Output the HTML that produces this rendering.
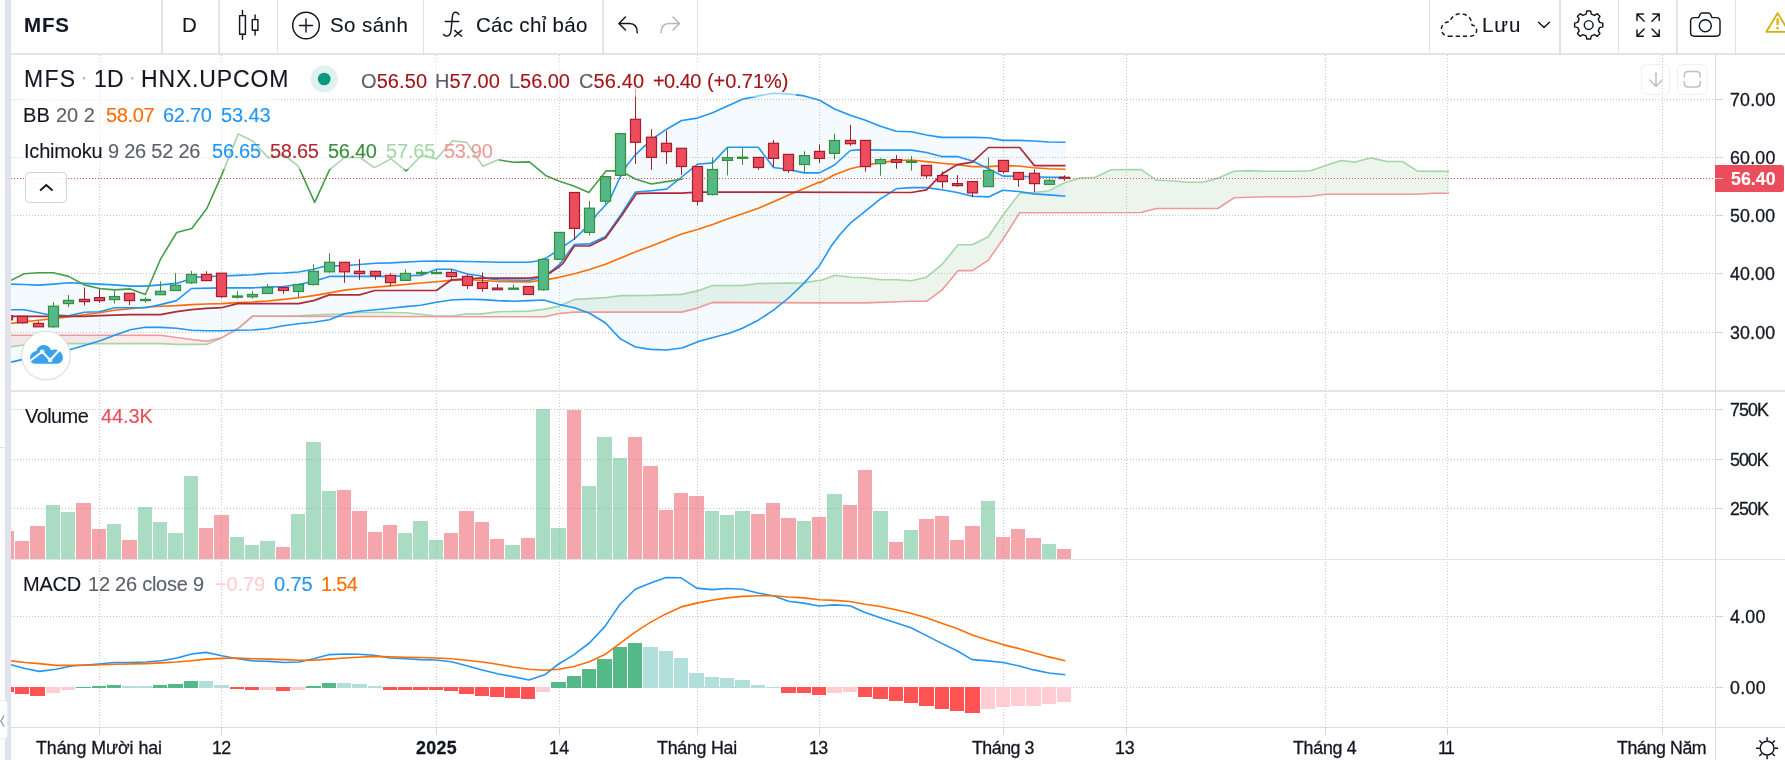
<!DOCTYPE html>
<html><head><meta charset="utf-8"><title>MFS</title>
<style>
html,body{margin:0;padding:0;background:#fff;}
body{width:1785px;height:760px;overflow:hidden;position:relative;font-family:"Liberation Sans",sans-serif;}
#app{position:absolute;left:0;top:0;width:1785px;height:760px;overflow:hidden;background:#fff;}
svg{position:absolute;left:0;top:0;}
.t{position:absolute;white-space:pre;font-family:"Liberation Sans",sans-serif;will-change:transform;-webkit-text-stroke:0.12px currentColor;}
.lb{position:absolute;background:rgba(255,255,255,0.55);}
</style></head><body><div id="app">
<svg width="1785" height="760" viewBox="0 0 1785 760">
<defs><clipPath id="cpMain"><rect x="11" y="55" width="1704" height="335"/></clipPath></defs>
<g stroke="#c8c8c8" stroke-width="1" stroke-dasharray="1 2" fill="none" shape-rendering="crispEdges"><path d="M99.5 55V727"/><path d="M221.5 55V727"/><path d="M436.5 55V727"/><path d="M559.5 55V727"/><path d="M697.5 55V727"/><path d="M819.5 55V727"/><path d="M1003.5 55V727"/><path d="M1126.5 55V727"/><path d="M1325.5 55V727"/><path d="M1447.5 55V727"/><path d="M1662.5 55V727"/><path d="M11 99.5H1715"/><path d="M11 157.5H1715"/><path d="M11 215.5H1715"/><path d="M11 273.5H1715"/><path d="M11 332.5H1715"/><path d="M11 409.5H1715"/><path d="M11 459.5H1715"/><path d="M11 508.5H1715"/><path d="M11 616.5H1715"/><path d="M11 687.5H1715"/></g>
<g clip-path="url(#cpMain)">
<polygon points="11.1,284.1 24.2,284.5 38.3,285.1 53.4,284.1 68.6,282.8 84.3,283.4 99.4,284.1 114.6,284.9 130.3,286.1 145.4,286.1 160.5,284.9 176.5,283.4 185.6,280.4 191.4,277.4 206.5,276.8 221.5,276.0 237.6,275.4 252.5,274.8 267.6,273.4 283.4,273.0 298.5,272.0 313.6,269.3 322.7,266.7 329.4,265.9 344.5,265.7 350.1,265.3 375.3,263.3 390.4,262.9 420.7,261.3 436.4,261.1 451.5,261.3 480.0,261.7 498.2,262.3 529.4,262.3 538.5,260.7 546.6,257.7 559.3,249.6 566.7,244.1 574.4,238.9 589.5,224.4 597.0,214.3 609.1,201.2 619.2,179.0 627.2,164.9 635.3,154.8 651.4,139.7 666.6,129.2 681.7,120.5 697.4,118.1 712.6,112.8 727.5,106.0 742.4,99.3 758.3,95.9 773.5,93.3 788.6,93.9 804.3,95.9 819.5,100.3 835.1,109.2 850.3,115.2 865.4,120.3 880.5,126.3 896.2,131.3 911.4,131.8 926.5,135.0 941.6,137.4 957.2,137.4 972.5,137.4 988.4,137.8 1002.9,140.4 1018.5,140.4 1033.6,141.0 1048.9,142.0 1065.5,142.2 1065.5,196.3 1048.9,194.9 1033.6,193.9 1018.5,191.5 1002.9,190.2 988.4,196.9 972.5,196.3 957.2,192.5 941.6,189.8 926.5,187.6 911.4,187.6 896.2,188.8 880.5,198.9 865.4,211.1 850.3,223.2 840.0,234.5 830.9,246.6 819.5,265.7 804.3,282.9 788.6,298.0 773.5,310.1 758.3,320.2 742.4,328.2 730.1,333.1 700.0,340.9 681.9,348.0 666.7,350.0 650.6,349.4 635.5,347.0 620.4,338.9 605.2,322.8 589.5,313.3 574.4,307.7 559.4,304.6 543.7,300.0 529.6,300.6 513.1,301.2 497.3,300.6 482.4,299.6 467.5,299.2 451.5,300.0 436.4,302.2 420.7,305.2 405.6,306.6 390.4,308.3 375.3,309.7 359.6,311.3 344.5,313.7 329.4,319.8 313.6,322.2 298.5,323.8 283.4,325.8 267.6,328.8 252.5,330.0 237.6,330.2 221.5,330.8 206.5,330.8 191.4,330.2 176.5,328.2 160.5,327.4 145.4,327.2 130.3,329.8 114.6,335.3 99.4,340.9 84.3,345.4 68.6,350.0 53.4,353.4 38.3,356.1 24.2,359.1 11.1,362.1" fill="#2196f3" fill-opacity="0.05"/>
<polygon points="11.1,346.6 24.2,345.0 46.4,342.9 53.4,343.1 68.6,343.6 99.4,343.6 160.5,343.6 161.4,343.6 176.5,344.4 191.4,344.4 206.5,344.4 221.5,337.9 237.6,328.8 237.6,328.8 221.5,337.9 206.5,341.3 191.4,339.5 176.5,337.5 161.4,335.4 160.5,335.3 99.4,335.3 68.6,335.3 53.4,335.3 46.4,335.3 24.2,335.3 11.1,335.3" fill="#f44336" fill-opacity="0.1"/>
<polygon points="237.6,328.8 252.5,316.1 267.6,316.1 298.5,315.7 313.6,315.1 329.4,314.3 344.5,313.7 359.6,312.7 375.3,312.3 405.6,312.7 420.7,314.3 436.4,316.1 451.5,316.1 467.5,313.7 480.0,314.1 498.2,311.7 529.4,311.1 544.5,309.1 559.3,306.1 574.4,299.4 589.5,298.6 605.5,297.6 621.2,295.6 651.4,295.4 681.7,294.4 697.4,290.9 712.6,285.5 742.4,285.5 758.3,283.5 804.3,282.9 819.5,280.2 820.0,280.7 835.1,275.2 850.3,277.2 865.4,277.7 880.5,279.7 896.2,279.7 911.4,280.7 926.5,277.2 941.6,264.9 958.2,244.8 972.5,244.8 988.4,236.7 1002.9,215.1 1019.7,193.3 1034.4,192.5 1048.9,190.8 1064.5,182.8 1080.2,178.1 1095.3,177.3 1111.4,169.7 1120.0,169.6 1141.2,169.6 1156.3,180.1 1171.4,180.7 1187.6,182.3 1202.7,182.3 1217.8,178.3 1234.0,171.2 1249.1,170.6 1264.2,171.2 1295.5,171.2 1310.6,170.8 1325.7,165.6 1340.9,160.5 1355.0,162.1 1370.5,157.9 1387.2,161.5 1402.4,161.5 1417.5,171.2 1432.6,171.3 1449.2,171.4 1449.2,193.2 1432.6,193.2 1417.5,194.2 1402.4,194.2 1387.2,194.2 1370.5,194.2 1355.0,194.2 1340.9,194.2 1325.7,194.2 1310.6,196.2 1295.5,196.8 1264.2,196.8 1249.1,197.3 1234.0,197.8 1217.8,208.5 1202.7,208.5 1187.6,208.5 1171.4,208.5 1156.3,208.5 1141.2,212.5 1120.0,212.5 1111.4,212.5 1095.3,212.6 1080.2,212.6 1064.5,212.6 1048.9,212.7 1034.4,212.7 1019.7,212.7 1002.9,239.3 988.4,260.1 972.5,270.6 958.2,270.6 941.6,290.4 926.5,301.3 911.4,301.3 896.2,301.8 880.5,302.4 865.4,302.9 850.3,302.9 835.1,302.9 820.0,302.9 819.5,302.9 804.3,302.8 758.3,302.6 742.4,302.5 712.6,302.4 697.4,308.1 681.7,312.1 651.4,312.1 621.2,312.1 605.5,312.1 589.5,312.1 574.4,312.1 559.3,313.5 544.5,316.7 529.4,316.7 498.2,316.7 480.0,316.7 467.5,316.7 451.5,316.6 436.4,316.6 420.7,316.6 405.6,316.6 375.3,316.5 359.6,316.5 344.5,316.5 329.4,316.4 313.6,316.4 298.5,316.4 267.6,316.3 252.5,316.3 237.6,328.8" fill="#43a047" fill-opacity="0.1"/>
<polyline points="11.1,346.6 24.2,345.0 46.4,342.9 68.6,343.6 99.4,343.6 161.4,343.6 176.5,344.4 206.5,344.4 221.5,337.9 237.6,328.8 252.5,316.1 267.6,316.1 298.5,315.7 313.6,315.1 329.4,314.3 344.5,313.7 359.6,312.7 375.3,312.3 405.6,312.7 420.7,314.3 436.4,316.1 451.5,316.1 467.5,313.7 480.0,314.1 498.2,311.7 529.4,311.1 544.5,309.1 559.3,306.1 574.4,299.4 589.5,298.6 605.5,297.6 621.2,295.6 651.4,295.4 681.7,294.4 697.4,290.9 712.6,285.5 742.4,285.5 758.3,283.5 804.3,282.9 819.5,280.2 820.0,280.7 835.1,275.2 850.3,277.2 865.4,277.7 880.5,279.7 896.2,279.7 911.4,280.7 926.5,277.2 941.6,264.9 958.2,244.8 972.5,244.8 988.4,236.7 1002.9,215.1 1019.7,193.3 1034.4,192.5 1048.9,190.8 1064.5,182.8 1080.2,178.1 1095.3,177.3 1111.4,169.7 1120.0,169.6 1141.2,169.6 1156.3,180.1 1171.4,180.7 1187.6,182.3 1202.7,182.3 1217.8,178.3 1234.0,171.2 1249.1,170.6 1264.2,171.2 1295.5,171.2 1310.6,170.8 1325.7,165.6 1340.9,160.5 1355.0,162.1 1370.5,157.9 1387.2,161.5 1402.4,161.5 1417.5,171.2 1449.2,171.4" fill="none" stroke="#a5d6a7" stroke-width="1.6" stroke-linejoin="round"/>
<polyline points="11.1,335.3 53.4,335.3 160.5,335.3 176.5,337.5 191.4,339.5 206.5,341.3 221.5,337.9 237.6,328.8 252.5,316.3 480.0,316.7 544.5,316.7 559.3,313.5 574.4,312.1 681.7,312.1 697.4,308.1 712.6,302.4 820.0,302.9 865.4,302.9 911.4,301.3 926.5,301.3 941.6,290.4 958.2,270.6 972.5,270.6 988.4,260.1 1002.9,239.3 1019.7,212.7 1141.2,212.5 1156.3,208.5 1217.8,208.5 1234.0,197.8 1264.2,196.8 1295.5,196.8 1310.6,196.2 1325.7,194.2 1417.5,194.2 1432.6,193.2 1449.2,193.2" fill="none" stroke="#ef9a9a" stroke-width="1.6" stroke-linejoin="round"/>
<polyline points="11.1,323.4 24.2,321.8 38.3,320.2 53.4,318.7 68.6,316.7 84.3,314.7 99.4,312.7 114.6,310.3 130.3,308.7 145.4,307.2 160.5,306.2 176.5,305.6 191.4,304.6 206.5,304.0 221.5,303.6 237.6,302.6 252.5,302.0 267.6,301.0 283.4,299.4 298.5,297.8 313.6,295.6 329.4,292.9 344.5,290.1 359.6,288.5 390.4,285.9 420.7,283.0 436.4,281.8 451.5,280.4 467.5,279.8 480.0,280.2 498.2,281.5 529.4,281.9 538.5,280.8 548.6,279.4 559.3,277.2 574.4,273.8 589.5,269.4 605.5,264.3 621.2,257.7 636.3,251.6 651.4,246.0 666.6,239.9 681.7,234.1 697.4,229.4 712.6,224.4 727.5,218.9 742.4,213.7 758.3,208.2 773.5,201.8 788.6,195.1 804.3,188.5 819.5,182.0 820.0,182.8 834.5,174.7 850.3,168.7 865.4,165.2 880.5,162.6 896.2,160.6 911.4,160.0 926.5,161.6 941.6,163.2 957.2,164.6 972.5,166.6 988.4,166.6 1002.9,165.6 1018.5,166.0 1033.6,167.7 1048.9,168.7 1065.5,169.3" fill="none" stroke="#ff6d00" stroke-width="1.6" stroke-linejoin="round"/>
<polyline points="11.1,284.1 24.2,284.5 38.3,285.1 53.4,284.1 68.6,282.8 84.3,283.4 99.4,284.1 114.6,284.9 130.3,286.1 145.4,286.1 160.5,284.9 176.5,283.4 185.6,280.4 191.4,277.4 206.5,276.8 221.5,276.0 237.6,275.4 252.5,274.8 267.6,273.4 283.4,273.0 298.5,272.0 313.6,269.3 322.7,266.7 329.4,265.9 344.5,265.7 350.1,265.3 375.3,263.3 390.4,262.9 420.7,261.3 436.4,261.1 451.5,261.3 480.0,261.7 498.2,262.3 529.4,262.3 538.5,260.7 546.6,257.7 559.3,249.6 566.7,244.1 574.4,238.9 589.5,224.4 597.0,214.3 609.1,201.2 619.2,179.0 627.2,164.9 635.3,154.8 651.4,139.7 666.6,129.2 681.7,120.5 697.4,118.1 712.6,112.8 727.5,106.0 742.4,99.3 758.3,95.9 773.5,93.3 788.6,93.9 804.3,95.9 819.5,100.3 835.1,109.2 850.3,115.2 865.4,120.3 880.5,126.3 896.2,131.3 911.4,131.8 926.5,135.0 941.6,137.4 957.2,137.4 972.5,137.4 988.4,137.8 1002.9,140.4 1018.5,140.4 1033.6,141.0 1048.9,142.0 1065.5,142.2" fill="none" stroke="#2196f3" stroke-width="1.6" stroke-linejoin="round"/>
<polyline points="11.1,362.1 24.2,359.1 38.3,356.1 53.4,353.4 68.6,350.0 84.3,345.4 99.4,340.9 114.6,335.3 130.3,329.8 145.4,327.2 160.5,327.4 176.5,328.2 191.4,330.2 206.5,330.8 221.5,330.8 237.6,330.2 252.5,330.0 267.6,328.8 283.4,325.8 298.5,323.8 313.6,322.2 329.4,319.8 344.5,313.7 359.6,311.3 375.3,309.7 390.4,308.3 405.6,306.6 420.7,305.2 436.4,302.2 451.5,300.0 467.5,299.2 482.4,299.6 497.3,300.6 513.1,301.2 529.6,300.6 543.7,300.0 559.4,304.6 574.4,307.7 589.5,313.3 605.2,322.8 620.4,338.9 635.5,347.0 650.6,349.4 666.7,350.0 681.9,348.0 700.0,340.9 730.1,333.1 742.4,328.2 758.3,320.2 773.5,310.1 788.6,298.0 804.3,282.9 819.5,265.7 830.9,246.6 840.0,234.5 850.3,223.2 865.4,211.1 880.5,198.9 896.2,188.8 911.4,187.6 926.5,187.6 941.6,189.8 957.2,192.5 972.5,196.3 988.4,196.9 1002.9,190.2 1018.5,191.5 1033.6,193.9 1048.9,194.9 1065.5,196.3" fill="none" stroke="#2196f3" stroke-width="1.6" stroke-linejoin="round"/>
<polyline points="11.1,309.7 24.2,309.7 46.4,314.3 68.6,315.7 84.3,312.3 99.4,311.7 114.6,307.7 145.4,307.7 160.5,304.6 176.5,300.6 191.4,288.5 221.5,287.9 237.6,287.9 252.5,287.9 267.6,287.1 283.4,286.5 298.5,284.5 313.6,281.4 329.4,276.4 390.4,276.4 405.6,275.8 420.7,275.4 436.4,269.3 451.5,269.3 467.5,274.0 480.0,275.8 488.1,278.8 498.2,279.8 529.4,280.2 538.5,278.2 548.6,273.4 559.3,264.7 566.7,254.6 574.4,244.5 589.5,243.9 605.5,236.5 621.2,214.3 635.3,192.1 651.4,190.7 666.6,189.1 681.7,177.0 697.4,164.3 712.6,162.9 727.5,147.3 742.4,147.3 758.3,147.3 773.5,167.5 788.6,169.5 804.3,172.9 819.5,172.9 834.5,165.0 850.3,150.5 858.3,149.9 865.4,149.9 880.5,150.1 896.2,150.1 911.4,150.1 926.5,152.5 941.6,156.6 957.2,156.6 972.5,161.0 988.4,168.7 1002.9,176.1 1018.5,176.3 1033.6,176.7 1048.9,177.3 1065.5,177.3" fill="none" stroke="#2196f3" stroke-width="1.6" stroke-linejoin="round"/>
<polyline points="11.1,316.3 38.3,316.3 53.4,316.3 68.6,316.3 84.3,316.3 99.4,315.7 114.6,315.1 130.3,314.7 145.4,314.7 160.5,314.7 176.5,311.7 191.4,309.7 206.5,308.3 221.5,307.7 237.6,303.6 252.5,303.6 267.6,303.6 283.4,303.6 298.5,303.6 313.6,300.6 329.4,294.9 344.5,294.9 359.6,294.9 374.9,290.5 436.4,290.5 451.5,279.8 480.0,278.2 529.4,278.2 538.5,276.8 548.6,273.8 559.3,266.7 562.7,263.7 574.4,246.0 589.5,246.0 605.5,238.1 621.2,216.3 636.3,193.7 651.4,193.1 681.7,193.1 697.4,192.1 911.4,192.5 926.5,189.8 942.4,173.7 957.4,164.6 972.5,162.2 988.4,147.5 1002.9,147.5 1019.7,147.5 1034.4,165.6 1065.5,165.6" fill="none" stroke="#ad2a38" stroke-width="1.7" stroke-linejoin="round"/>
<polyline points="11.1,280.4 24.2,273.8 38.3,272.8 53.4,272.8 68.6,276.4 84.3,284.9 99.4,288.5 114.6,289.9 130.3,288.9 145.4,294.5 160.5,259.2 176.7,232.5 191.8,228.5 207.0,208.3 222.3,173.6 238.2,133.9 252.9,141.3 268.5,157.9 283.6,154.5 298.3,166.2 314.7,202.3 329.6,169.6 344.7,157.5 359.8,157.5 374.4,167.6 391.1,158.9 406.2,171.0 421.4,155.5 436.5,158.9 452.6,140.7 466.7,142.4 482.9,166.2 498.2,159.8 513.3,162.3 529.4,161.9 545.6,175.4 558.7,181.0 573.8,186.1 588.9,192.5 598.0,181.0 606.1,170.9 619.2,170.9 626.2,174.0 635.3,179.0 651.4,184.0 666.6,181.6 682.7,179.0" fill="none" stroke="#43a047" stroke-width="1.6" stroke-linejoin="round"/>
<g><path d="M7.5 315.7V319.8" stroke="#a61c2b" stroke-width="1"/><rect x="2.5" y="315.7" width="10" height="4.1" fill="#eb4d5c" stroke="#a61c2b" stroke-width="1.2"/><path d="M22.5 316.3V323.8" stroke="#a61c2b" stroke-width="1"/><rect x="17.5" y="316.3" width="10" height="6.5" fill="#eb4d5c" stroke="#a61c2b" stroke-width="1.2"/><path d="M38.5 321.2V326.8" stroke="#a61c2b" stroke-width="1"/><rect x="33.5" y="323.4" width="10" height="3.4" fill="#eb4d5c" stroke="#a61c2b" stroke-width="1.2"/><path d="M53.5 302.2V327.8" stroke="#388e3c" stroke-width="1"/><rect x="48.5" y="306.2" width="10" height="20.6" fill="#53b987" stroke="#388e3c" stroke-width="1.2"/><path d="M68.5 295.1V307.0" stroke="#388e3c" stroke-width="1"/><rect x="63.5" y="300.4" width="10" height="3.2" fill="#53b987" stroke="#388e3c" stroke-width="1.2"/><path d="M84.5 287.5V305.6" stroke="#a61c2b" stroke-width="1"/><rect x="79.5" y="299.4" width="10" height="2.2" fill="#eb4d5c" stroke="#a61c2b" stroke-width="1.2"/><path d="M99.5 288.9V303.0" stroke="#a61c2b" stroke-width="1"/><rect x="94.5" y="297.6" width="10" height="3.0" fill="#eb4d5c" stroke="#a61c2b" stroke-width="1.2"/><path d="M114.5 291.1V303.6" stroke="#388e3c" stroke-width="1"/><rect x="109.5" y="296.6" width="10" height="3.0" fill="#53b987" stroke="#388e3c" stroke-width="1.2"/><path d="M129.5 293.3V305.0" stroke="#a61c2b" stroke-width="1"/><rect x="124.5" y="293.3" width="10" height="7.3" fill="#eb4d5c" stroke="#a61c2b" stroke-width="1.2"/><path d="M145.5 297.2V302.6" stroke="#388e3c" stroke-width="1"/><rect x="140.5" y="299.4" width="10" height="1.2" fill="#53b987" stroke="#388e3c" stroke-width="1.2"/><path d="M160.5 281.4V294.7" stroke="#388e3c" stroke-width="1"/><rect x="155.5" y="291.3" width="10" height="3.4" fill="#53b987" stroke="#388e3c" stroke-width="1.2"/><path d="M175.5 273.2V290.5" stroke="#388e3c" stroke-width="1"/><rect x="170.5" y="285.3" width="10" height="5.2" fill="#53b987" stroke="#388e3c" stroke-width="1.2"/><path d="M191.5 270.9V283.9" stroke="#388e3c" stroke-width="1"/><rect x="186.5" y="274.4" width="10" height="8.4" fill="#53b987" stroke="#388e3c" stroke-width="1.2"/><path d="M206.5 271.3V280.6" stroke="#a61c2b" stroke-width="1"/><rect x="201.5" y="274.4" width="10" height="6.2" fill="#eb4d5c" stroke="#a61c2b" stroke-width="1.2"/><path d="M221.5 273.2V297.8" stroke="#a61c2b" stroke-width="1"/><rect x="216.5" y="273.2" width="10" height="23.4" fill="#eb4d5c" stroke="#a61c2b" stroke-width="1.2"/><path d="M237.5 291.1V298.6" stroke="#388e3c" stroke-width="1"/><rect x="232.5" y="296.0" width="10" height="1.2" fill="#53b987" stroke="#388e3c" stroke-width="1.2"/><path d="M252.5 291.1V298.6" stroke="#388e3c" stroke-width="1"/><rect x="247.5" y="294.5" width="10" height="2.3" fill="#53b987" stroke="#388e3c" stroke-width="1.2"/><path d="M267.5 284.1V293.5" stroke="#388e3c" stroke-width="1"/><rect x="262.5" y="287.5" width="10" height="6.0" fill="#53b987" stroke="#388e3c" stroke-width="1.2"/><path d="M283.5 287.5V293.7" stroke="#a61c2b" stroke-width="1"/><rect x="278.5" y="287.5" width="10" height="3.0" fill="#eb4d5c" stroke="#a61c2b" stroke-width="1.2"/><path d="M298.5 284.5V297.6" stroke="#388e3c" stroke-width="1"/><rect x="293.5" y="284.5" width="10" height="7.0" fill="#53b987" stroke="#388e3c" stroke-width="1.2"/><path d="M313.5 264.3V285.5" stroke="#388e3c" stroke-width="1"/><rect x="308.5" y="271.3" width="10" height="13.2" fill="#53b987" stroke="#388e3c" stroke-width="1.2"/><path d="M329.5 253.2V272.8" stroke="#388e3c" stroke-width="1"/><rect x="324.5" y="262.3" width="10" height="9.5" fill="#53b987" stroke="#388e3c" stroke-width="1.2"/><path d="M344.5 262.3V282.8" stroke="#a61c2b" stroke-width="1"/><rect x="339.5" y="262.3" width="10" height="9.5" fill="#eb4d5c" stroke="#a61c2b" stroke-width="1.2"/><path d="M359.5 259.2V279.8" stroke="#a61c2b" stroke-width="1"/><rect x="354.5" y="271.3" width="10" height="2.3" fill="#eb4d5c" stroke="#a61c2b" stroke-width="1.2"/><path d="M375.5 271.3V279.8" stroke="#a61c2b" stroke-width="1"/><rect x="370.5" y="271.3" width="10" height="4.5" fill="#eb4d5c" stroke="#a61c2b" stroke-width="1.2"/><path d="M390.5 273.2V285.9" stroke="#a61c2b" stroke-width="1"/><rect x="385.5" y="275.4" width="10" height="7.2" fill="#eb4d5c" stroke="#a61c2b" stroke-width="1.2"/><path d="M405.5 269.3V280.4" stroke="#388e3c" stroke-width="1"/><rect x="400.5" y="273.4" width="10" height="7.0" fill="#53b987" stroke="#388e3c" stroke-width="1.2"/><path d="M421.5 270.3V275.4" stroke="#388e3c" stroke-width="1"/><rect x="416.5" y="272.4" width="10" height="1.2" fill="#53b987" stroke="#388e3c" stroke-width="1.2"/><path d="M436.5 269.7V273.4" stroke="#388e3c" stroke-width="1"/><rect x="431.5" y="272.4" width="10" height="1.2" fill="#53b987" stroke="#388e3c" stroke-width="1.2"/><path d="M451.5 269.3V278.8" stroke="#a61c2b" stroke-width="1"/><rect x="446.5" y="272.4" width="10" height="4.2" fill="#eb4d5c" stroke="#a61c2b" stroke-width="1.2"/><path d="M467.5 274.4V288.9" stroke="#a61c2b" stroke-width="1"/><rect x="462.5" y="276.4" width="10" height="9.1" fill="#eb4d5c" stroke="#a61c2b" stroke-width="1.2"/><path d="M482.5 272.4V291.7" stroke="#a61c2b" stroke-width="1"/><rect x="477.5" y="282.4" width="10" height="6.1" fill="#eb4d5c" stroke="#a61c2b" stroke-width="1.2"/><path d="M497.5 284.1V289.7" stroke="#a61c2b" stroke-width="1"/><rect x="492.5" y="288.1" width="10" height="1.6" fill="#eb4d5c" stroke="#a61c2b" stroke-width="1.2"/><path d="M513.5 284.5V288.9" stroke="#388e3c" stroke-width="1"/><rect x="508.5" y="288.1" width="10" height="1.2" fill="#53b987" stroke="#388e3c" stroke-width="1.2"/><path d="M528.5 286.5V294.5" stroke="#a61c2b" stroke-width="1"/><rect x="523.5" y="286.5" width="10" height="8.0" fill="#eb4d5c" stroke="#a61c2b" stroke-width="1.2"/><path d="M543.5 259.4V290.7" stroke="#388e3c" stroke-width="1"/><rect x="538.5" y="259.4" width="10" height="30.3" fill="#53b987" stroke="#388e3c" stroke-width="1.2"/><path d="M559.5 232.4V259.3" stroke="#388e3c" stroke-width="1"/><rect x="554.5" y="232.4" width="10" height="26.9" fill="#53b987" stroke="#388e3c" stroke-width="1.2"/><path d="M574.5 192.5V239.9" stroke="#a61c2b" stroke-width="1"/><rect x="569.5" y="192.5" width="10" height="35.9" fill="#eb4d5c" stroke="#a61c2b" stroke-width="1.2"/><path d="M589.5 201.2V235.5" stroke="#388e3c" stroke-width="1"/><rect x="584.5" y="208.2" width="10" height="24.2" fill="#53b987" stroke="#388e3c" stroke-width="1.2"/><path d="M605.5 176.6V204.2" stroke="#388e3c" stroke-width="1"/><rect x="600.5" y="176.6" width="10" height="24.6" fill="#53b987" stroke="#388e3c" stroke-width="1.2"/><path d="M620.5 133.6V175.4" stroke="#388e3c" stroke-width="1"/><rect x="615.5" y="133.6" width="10" height="41.8" fill="#53b987" stroke="#388e3c" stroke-width="1.2"/><path d="M635.5 89.2V163.9" stroke="#a61c2b" stroke-width="1"/><rect x="630.5" y="119.3" width="10" height="23.0" fill="#eb4d5c" stroke="#a61c2b" stroke-width="1.2"/><path d="M651.5 129.2V169.9" stroke="#a61c2b" stroke-width="1"/><rect x="646.5" y="137.2" width="10" height="20.2" fill="#eb4d5c" stroke="#a61c2b" stroke-width="1.2"/><path d="M666.5 130.6V163.9" stroke="#a61c2b" stroke-width="1"/><rect x="661.5" y="143.3" width="10" height="8.3" fill="#eb4d5c" stroke="#a61c2b" stroke-width="1.2"/><path d="M681.5 148.3V175.0" stroke="#a61c2b" stroke-width="1"/><rect x="676.5" y="148.3" width="10" height="18.2" fill="#eb4d5c" stroke="#a61c2b" stroke-width="1.2"/><path d="M697.5 166.5V205.6" stroke="#a61c2b" stroke-width="1"/><rect x="692.5" y="166.5" width="10" height="34.7" fill="#eb4d5c" stroke="#a61c2b" stroke-width="1.2"/><path d="M712.5 157.4V195.5" stroke="#388e3c" stroke-width="1"/><rect x="707.5" y="169.5" width="10" height="25.0" fill="#53b987" stroke="#388e3c" stroke-width="1.2"/><path d="M727.5 147.7V175.4" stroke="#388e3c" stroke-width="1"/><rect x="722.5" y="157.6" width="10" height="2.8" fill="#53b987" stroke="#388e3c" stroke-width="1.2"/><path d="M742.5 147.7V164.9" stroke="#388e3c" stroke-width="1"/><rect x="737.5" y="157.2" width="10" height="1.2" fill="#53b987" stroke="#388e3c" stroke-width="1.2"/><path d="M758.5 157.4V169.9" stroke="#a61c2b" stroke-width="1"/><rect x="753.5" y="157.4" width="10" height="10.1" fill="#eb4d5c" stroke="#a61c2b" stroke-width="1.2"/><path d="M773.5 140.1V166.9" stroke="#a61c2b" stroke-width="1"/><rect x="768.5" y="143.3" width="10" height="15.1" fill="#eb4d5c" stroke="#a61c2b" stroke-width="1.2"/><path d="M788.5 154.4V172.9" stroke="#a61c2b" stroke-width="1"/><rect x="783.5" y="154.4" width="10" height="16.1" fill="#eb4d5c" stroke="#a61c2b" stroke-width="1.2"/><path d="M804.5 151.2V172.5" stroke="#388e3c" stroke-width="1"/><rect x="799.5" y="155.6" width="10" height="8.9" fill="#53b987" stroke="#388e3c" stroke-width="1.2"/><path d="M819.5 144.3V162.9" stroke="#a61c2b" stroke-width="1"/><rect x="814.5" y="151.4" width="10" height="7.0" fill="#eb4d5c" stroke="#a61c2b" stroke-width="1.2"/><path d="M834.5 133.6V159.4" stroke="#388e3c" stroke-width="1"/><rect x="829.5" y="140.5" width="10" height="12.9" fill="#53b987" stroke="#388e3c" stroke-width="1.2"/><path d="M850.5 124.9V145.9" stroke="#a61c2b" stroke-width="1"/><rect x="845.5" y="140.4" width="10" height="3.3" fill="#eb4d5c" stroke="#a61c2b" stroke-width="1.2"/><path d="M865.5 140.4V171.7" stroke="#a61c2b" stroke-width="1"/><rect x="860.5" y="140.4" width="10" height="26.2" fill="#eb4d5c" stroke="#a61c2b" stroke-width="1.2"/><path d="M880.5 158.2V175.7" stroke="#388e3c" stroke-width="1"/><rect x="875.5" y="159.6" width="10" height="4.0" fill="#53b987" stroke="#388e3c" stroke-width="1.2"/><path d="M896.5 155.1V168.7" stroke="#a61c2b" stroke-width="1"/><rect x="891.5" y="159.6" width="10" height="2.8" fill="#eb4d5c" stroke="#a61c2b" stroke-width="1.2"/><path d="M911.5 156.0V170.7" stroke="#388e3c" stroke-width="1"/><rect x="906.5" y="161.2" width="10" height="1.2" fill="#53b987" stroke="#388e3c" stroke-width="1.2"/><path d="M926.5 165.4V178.7" stroke="#a61c2b" stroke-width="1"/><rect x="921.5" y="165.4" width="10" height="10.3" fill="#eb4d5c" stroke="#a61c2b" stroke-width="1.2"/><path d="M942.5 171.3V188.2" stroke="#a61c2b" stroke-width="1"/><rect x="937.5" y="175.5" width="10" height="6.1" fill="#eb4d5c" stroke="#a61c2b" stroke-width="1.2"/><path d="M957.5 175.1V186.8" stroke="#a61c2b" stroke-width="1"/><rect x="952.5" y="183.6" width="10" height="2.0" fill="#eb4d5c" stroke="#a61c2b" stroke-width="1.2"/><path d="M972.5 181.6V196.9" stroke="#a61c2b" stroke-width="1"/><rect x="967.5" y="181.6" width="10" height="11.3" fill="#eb4d5c" stroke="#a61c2b" stroke-width="1.2"/><path d="M988.5 157.6V186.6" stroke="#388e3c" stroke-width="1"/><rect x="983.5" y="170.5" width="10" height="16.1" fill="#53b987" stroke="#388e3c" stroke-width="1.2"/><path d="M1003.5 160.4V173.7" stroke="#a61c2b" stroke-width="1"/><rect x="998.5" y="160.4" width="10" height="11.1" fill="#eb4d5c" stroke="#a61c2b" stroke-width="1.2"/><path d="M1018.5 172.5V186.8" stroke="#a61c2b" stroke-width="1"/><rect x="1013.5" y="172.5" width="10" height="6.9" fill="#eb4d5c" stroke="#a61c2b" stroke-width="1.2"/><path d="M1034.5 169.3V192.3" stroke="#a61c2b" stroke-width="1"/><rect x="1029.5" y="173.3" width="10" height="10.3" fill="#eb4d5c" stroke="#a61c2b" stroke-width="1.2"/><path d="M1049.5 177.3V184.4" stroke="#388e3c" stroke-width="1"/><rect x="1044.5" y="180.4" width="10" height="4.0" fill="#53b987" stroke="#388e3c" stroke-width="1.2"/><path d="M1064.5 175.3V180.8" stroke="#a61c2b" stroke-width="1"/><rect x="1059.5" y="177.3" width="10" height="1.2" fill="#eb4d5c" stroke="#a61c2b" stroke-width="1.2"/></g>
</g>
<path d="M11 178.5H1715" stroke="#eb4d5c" stroke-width="1" stroke-dasharray="1 2" fill="none" shape-rendering="crispEdges"/>
<g fill-opacity="0.5" shape-rendering="crispEdges"><rect x="11.0" y="531.0" width="3.0" height="28.0" fill="#eb4d5c"/><rect x="15.0" y="541.1" width="14.0" height="17.9" fill="#eb4d5c"/><rect x="30.0" y="526.1" width="15.0" height="32.9" fill="#eb4d5c"/><rect x="46.0" y="505.3" width="14.0" height="53.7" fill="#53b987"/><rect x="61.0" y="512.0" width="14.0" height="47.0" fill="#53b987"/><rect x="76.0" y="503.2" width="15.0" height="55.8" fill="#eb4d5c"/><rect x="92.0" y="529.0" width="14.0" height="30.0" fill="#eb4d5c"/><rect x="107.0" y="524.1" width="14.0" height="34.9" fill="#53b987"/><rect x="122.0" y="540.0" width="15.0" height="19.0" fill="#eb4d5c"/><rect x="138.0" y="507.0" width="14.0" height="52.0" fill="#53b987"/><rect x="153.0" y="522.1" width="14.0" height="36.9" fill="#53b987"/><rect x="168.0" y="533.0" width="15.0" height="26.0" fill="#53b987"/><rect x="184.0" y="476.1" width="14.0" height="82.9" fill="#53b987"/><rect x="199.0" y="528.1" width="14.0" height="30.9" fill="#eb4d5c"/><rect x="214.0" y="515.1" width="15.0" height="43.9" fill="#eb4d5c"/><rect x="230.0" y="537.1" width="14.0" height="21.9" fill="#53b987"/><rect x="245.0" y="545.1" width="14.0" height="13.9" fill="#53b987"/><rect x="260.0" y="541.1" width="15.0" height="17.9" fill="#53b987"/><rect x="276.0" y="547.2" width="14.0" height="11.8" fill="#eb4d5c"/><rect x="291.0" y="514.0" width="14.0" height="45.0" fill="#53b987"/><rect x="306.0" y="442.1" width="15.0" height="116.9" fill="#53b987"/><rect x="322.0" y="491.1" width="14.0" height="67.9" fill="#53b987"/><rect x="337.0" y="490.0" width="14.0" height="69.0" fill="#eb4d5c"/><rect x="352.0" y="511.1" width="15.0" height="47.9" fill="#eb4d5c"/><rect x="368.0" y="531.9" width="14.0" height="27.1" fill="#eb4d5c"/><rect x="383.0" y="525.0" width="14.0" height="34.0" fill="#eb4d5c"/><rect x="398.0" y="533.0" width="14.0" height="26.0" fill="#53b987"/><rect x="413.0" y="521.2" width="15.0" height="37.8" fill="#53b987"/><rect x="429.0" y="540.0" width="14.0" height="19.0" fill="#53b987"/><rect x="444.0" y="533.0" width="14.0" height="26.0" fill="#eb4d5c"/><rect x="459.0" y="511.1" width="15.0" height="47.9" fill="#eb4d5c"/><rect x="475.0" y="522.1" width="14.0" height="36.9" fill="#eb4d5c"/><rect x="490.0" y="539.1" width="14.0" height="19.9" fill="#eb4d5c"/><rect x="505.0" y="545.1" width="15.0" height="13.9" fill="#53b987"/><rect x="521.0" y="538.0" width="14.0" height="21.0" fill="#eb4d5c"/><rect x="536.0" y="408.9" width="14.0" height="150.1" fill="#53b987"/><rect x="551.0" y="528.1" width="15.0" height="30.9" fill="#53b987"/><rect x="567.0" y="410.0" width="14.0" height="149.0" fill="#eb4d5c"/><rect x="582.0" y="486.0" width="14.0" height="73.0" fill="#53b987"/><rect x="597.0" y="436.9" width="15.0" height="122.1" fill="#53b987"/><rect x="613.0" y="458.2" width="14.0" height="100.8" fill="#53b987"/><rect x="628.0" y="436.9" width="14.0" height="122.1" fill="#eb4d5c"/><rect x="643.0" y="466.0" width="15.0" height="93.0" fill="#eb4d5c"/><rect x="659.0" y="510.2" width="14.0" height="48.8" fill="#eb4d5c"/><rect x="674.0" y="492.9" width="14.0" height="66.1" fill="#eb4d5c"/><rect x="689.0" y="496.1" width="15.0" height="62.9" fill="#eb4d5c"/><rect x="705.0" y="511.1" width="14.0" height="47.9" fill="#53b987"/><rect x="720.0" y="515.1" width="14.0" height="43.9" fill="#53b987"/><rect x="735.0" y="511.1" width="15.0" height="47.9" fill="#53b987"/><rect x="751.0" y="514.0" width="14.0" height="45.0" fill="#eb4d5c"/><rect x="766.0" y="503.2" width="14.0" height="55.8" fill="#eb4d5c"/><rect x="781.0" y="518.0" width="15.0" height="41.0" fill="#eb4d5c"/><rect x="797.0" y="521.2" width="14.0" height="37.8" fill="#53b987"/><rect x="812.0" y="517.1" width="14.0" height="41.9" fill="#eb4d5c"/><rect x="827.0" y="494.0" width="15.0" height="65.0" fill="#53b987"/><rect x="843.0" y="505.0" width="14.0" height="54.0" fill="#eb4d5c"/><rect x="858.0" y="470.1" width="14.0" height="88.9" fill="#eb4d5c"/><rect x="873.0" y="511.1" width="15.0" height="47.9" fill="#53b987"/><rect x="889.0" y="542.0" width="14.0" height="17.0" fill="#eb4d5c"/><rect x="904.0" y="530.1" width="14.0" height="28.9" fill="#53b987"/><rect x="919.0" y="519.1" width="15.0" height="39.9" fill="#eb4d5c"/><rect x="935.0" y="516.0" width="14.0" height="43.0" fill="#eb4d5c"/><rect x="950.0" y="540.0" width="14.0" height="19.0" fill="#eb4d5c"/><rect x="965.0" y="526.1" width="15.0" height="32.9" fill="#eb4d5c"/><rect x="981.0" y="501.0" width="14.0" height="58.0" fill="#53b987"/><rect x="996.0" y="537.1" width="14.0" height="21.9" fill="#eb4d5c"/><rect x="1011.0" y="529.0" width="14.0" height="30.0" fill="#eb4d5c"/><rect x="1026.0" y="538.0" width="15.0" height="21.0" fill="#eb4d5c"/><rect x="1042.0" y="544.0" width="14.0" height="15.0" fill="#53b987"/><rect x="1057.0" y="549.2" width="14.0" height="9.8" fill="#eb4d5c"/></g>
<g shape-rendering="crispEdges"><rect x="11.0" y="687.1" width="3.0" height="4.5" fill="#ff5252"/><rect x="15.0" y="687.1" width="14.0" height="6.8" fill="#ff5252"/><rect x="30.0" y="687.1" width="15.0" height="8.5" fill="#ff5252"/><rect x="46.0" y="687.1" width="14.0" height="5.6" fill="#ffcdd2"/><rect x="61.0" y="687.1" width="14.0" height="2.7" fill="#ffcdd2"/><rect x="76.0" y="686.7" width="15.0" height="0.9" fill="#53b987"/><rect x="92.0" y="685.6" width="14.0" height="2.0" fill="#53b987"/><rect x="107.0" y="684.9" width="14.0" height="2.7" fill="#53b987"/><rect x="122.0" y="686.0" width="15.0" height="1.6" fill="#b2dfdb"/><rect x="138.0" y="686.0" width="14.0" height="1.6" fill="#b2dfdb"/><rect x="153.0" y="684.9" width="14.0" height="2.7" fill="#53b987"/><rect x="168.0" y="683.8" width="15.0" height="3.8" fill="#53b987"/><rect x="184.0" y="680.9" width="14.0" height="6.7" fill="#53b987"/><rect x="199.0" y="680.9" width="14.0" height="6.7" fill="#b2dfdb"/><rect x="214.0" y="684.9" width="15.0" height="2.7" fill="#b2dfdb"/><rect x="230.0" y="687.1" width="14.0" height="1.8" fill="#ff5252"/><rect x="245.0" y="687.1" width="14.0" height="2.7" fill="#ff5252"/><rect x="260.0" y="687.1" width="15.0" height="2.7" fill="#ffcdd2"/><rect x="276.0" y="687.1" width="14.0" height="3.8" fill="#ff5252"/><rect x="291.0" y="687.1" width="14.0" height="2.7" fill="#ffcdd2"/><rect x="306.0" y="686.0" width="15.0" height="1.6" fill="#53b987"/><rect x="322.0" y="683.1" width="14.0" height="4.5" fill="#53b987"/><rect x="337.0" y="683.1" width="14.0" height="4.5" fill="#b2dfdb"/><rect x="352.0" y="684.2" width="15.0" height="3.4" fill="#b2dfdb"/><rect x="368.0" y="686.0" width="14.0" height="1.6" fill="#b2dfdb"/><rect x="383.0" y="687.1" width="14.0" height="2.7" fill="#ff5252"/><rect x="398.0" y="687.1" width="14.0" height="2.7" fill="#ff5252"/><rect x="413.0" y="687.1" width="15.0" height="2.7" fill="#ff5252"/><rect x="429.0" y="687.1" width="14.0" height="2.7" fill="#ff5252"/><rect x="444.0" y="687.1" width="14.0" height="3.8" fill="#ff5252"/><rect x="459.0" y="687.1" width="15.0" height="6.8" fill="#ff5252"/><rect x="475.0" y="687.1" width="14.0" height="8.5" fill="#ff5252"/><rect x="490.0" y="687.1" width="14.0" height="9.7" fill="#ff5252"/><rect x="505.0" y="687.1" width="15.0" height="10.8" fill="#ff5252"/><rect x="521.0" y="687.1" width="14.0" height="11.7" fill="#ff5252"/><rect x="536.0" y="687.1" width="14.0" height="4.7" fill="#ffcdd2"/><rect x="551.0" y="682.0" width="15.0" height="5.8" fill="#53b987"/><rect x="567.0" y="675.9" width="14.0" height="11.9" fill="#53b987"/><rect x="582.0" y="669.0" width="14.0" height="18.8" fill="#53b987"/><rect x="597.0" y="659.1" width="15.0" height="28.7" fill="#53b987"/><rect x="613.0" y="647.0" width="14.0" height="40.8" fill="#53b987"/><rect x="628.0" y="643.0" width="14.0" height="44.8" fill="#53b987"/><rect x="643.0" y="647.0" width="15.0" height="40.8" fill="#b2dfdb"/><rect x="659.0" y="651.1" width="14.0" height="36.7" fill="#b2dfdb"/><rect x="674.0" y="658.0" width="14.0" height="29.8" fill="#b2dfdb"/><rect x="689.0" y="673.0" width="15.0" height="14.8" fill="#b2dfdb"/><rect x="705.0" y="677.0" width="14.0" height="10.8" fill="#b2dfdb"/><rect x="720.0" y="678.2" width="14.0" height="9.6" fill="#b2dfdb"/><rect x="735.0" y="680.2" width="15.0" height="7.6" fill="#b2dfdb"/><rect x="751.0" y="685.1" width="14.0" height="2.7" fill="#b2dfdb"/><rect x="766.0" y="686.9" width="14.0" height="0.9" fill="#b2dfdb"/><rect x="781.0" y="687.1" width="15.0" height="5.9" fill="#ff5252"/><rect x="797.0" y="687.1" width="14.0" height="5.6" fill="#ff5252"/><rect x="812.0" y="687.1" width="14.0" height="7.6" fill="#ff5252"/><rect x="827.0" y="687.1" width="15.0" height="5.6" fill="#ffcdd2"/><rect x="843.0" y="687.1" width="14.0" height="4.7" fill="#ffcdd2"/><rect x="858.0" y="687.1" width="14.0" height="9.7" fill="#ff5252"/><rect x="873.0" y="687.1" width="15.0" height="11.7" fill="#ff5252"/><rect x="889.0" y="687.1" width="14.0" height="13.7" fill="#ff5252"/><rect x="904.0" y="687.1" width="14.0" height="15.7" fill="#ff5252"/><rect x="919.0" y="687.1" width="15.0" height="18.6" fill="#ff5252"/><rect x="935.0" y="687.1" width="14.0" height="21.5" fill="#ff5252"/><rect x="950.0" y="687.1" width="14.0" height="23.8" fill="#ff5252"/><rect x="965.0" y="687.1" width="15.0" height="25.8" fill="#ff5252"/><rect x="981.0" y="687.1" width="14.0" height="21.5" fill="#ffcdd2"/><rect x="996.0" y="687.1" width="14.0" height="19.7" fill="#ffcdd2"/><rect x="1011.0" y="687.1" width="14.0" height="18.6" fill="#ffcdd2"/><rect x="1026.0" y="687.1" width="15.0" height="18.6" fill="#ffcdd2"/><rect x="1042.0" y="687.1" width="14.0" height="16.8" fill="#ffcdd2"/><rect x="1057.0" y="687.1" width="14.0" height="14.6" fill="#ffcdd2"/></g>
<polyline points="11.2,664.7 24.9,668.5 39.2,671.4 56.0,669.2 72.8,665.8 89.6,664.7 98.6,664.0 114.3,662.5 130.0,662.5 145.7,662.0 161.3,660.7 177.0,658.0 191.6,654.0 206.2,652.4 221.8,655.8 237.5,658.7 253.2,660.9 268.9,661.4 284.6,662.5 299.2,662.0 313.7,658.7 329.4,654.6 345.1,654.0 358.5,654.2 374.2,655.3 390.1,658.0 405.5,658.7 420.8,659.6 436.0,660.0 451.5,661.8 466.7,665.8 482.2,669.9 497.4,673.7 512.7,676.6 529.0,680.0 544.7,674.8 558.6,664.0 574.1,654.6 589.3,643.0 604.8,626.6 620.0,604.2 635.2,589.2 650.7,582.9 665.9,577.5 681.2,577.8 696.6,588.1 711.9,589.6 727.1,588.5 742.6,589.2 757.8,593.0 773.2,595.7 788.5,601.3 803.7,603.1 819.2,606.0 834.4,604.9 849.9,605.8 865.1,612.5 880.3,617.7 895.8,622.8 911.0,627.7 926.5,635.6 941.7,643.4 957.0,650.8 972.2,659.6 987.7,660.9 1002.9,662.5 1018.4,665.8 1033.6,669.9 1048.9,673.0 1065.2,674.8" fill="none" stroke="#2196f3" stroke-width="1.6" stroke-linejoin="round"/>
<polyline points="11.2,660.9 24.9,662.5 39.2,663.6 56.0,665.4 72.8,665.4 89.6,665.2 114.3,664.3 145.7,663.6 161.3,662.9 177.0,662.0 191.6,660.7 206.2,659.1 221.8,658.4 237.5,658.0 253.2,658.7 268.9,659.1 284.6,659.6 299.2,660.2 313.7,660.2 329.4,659.1 345.1,658.0 358.5,657.3 374.2,656.4 405.5,657.3 420.8,657.5 436.0,658.0 451.5,658.7 466.7,660.2 482.2,662.0 497.4,664.3 512.7,667.0 529.0,669.2 544.7,670.3 558.6,669.2 574.1,666.5 589.3,661.8 604.8,654.6 620.0,643.4 635.2,632.2 650.7,622.1 665.9,613.9 681.2,606.9 696.6,603.1 711.9,600.2 727.1,597.9 742.6,596.4 757.8,595.7 773.2,595.7 788.5,597.0 803.7,597.9 819.2,599.7 834.4,600.4 849.9,601.5 865.1,604.2 880.3,606.5 895.8,609.8 911.0,613.2 926.5,617.7 941.7,623.3 957.0,628.4 972.2,634.9 987.7,640.1 1002.9,644.6 1018.4,648.4 1033.6,652.8 1048.9,656.9 1065.2,660.7" fill="none" stroke="#ff6d00" stroke-width="1.6" stroke-linejoin="round"/>
<!-- frame -->
<g shape-rendering="crispEdges" fill="#e0e3eb">
<rect x="5" y="0" width="6" height="760"/>
<rect x="11" y="53" width="1774" height="2"/>
<rect x="11" y="390" width="1774" height="2"/>
<rect x="11" y="559" width="1774" height="1"/>
<rect x="11" y="727" width="1774" height="1" fill="#dadbe0"/>
<rect x="1715" y="55" width="1" height="705" fill="#dadbe0"/>
<rect x="161" y="0" width="2" height="53"/>
<rect x="218" y="0" width="2" height="53"/>
<rect x="277" y="0" width="1" height="53"/>
<rect x="423" y="0" width="1" height="53"/>
<rect x="602" y="0" width="2" height="53"/>
<rect x="697" y="0" width="1" height="53"/>
<rect x="1429" y="0" width="1" height="53"/>
<rect x="1559" y="0" width="2" height="53"/>
<rect x="1618" y="0" width="1" height="53"/>
<rect x="1676" y="0" width="2" height="53"/>
<rect x="1735" y="0" width="1" height="53"/>
</g>
<g stroke="#d1d4dc" stroke-width="1" shape-rendering="crispEdges">
<path d="M1715 99.5H1723"/><path d="M1715 157.5H1723"/><path d="M1715 215.5H1723"/><path d="M1715 273.5H1723"/><path d="M1715 332.5H1723"/><path d="M1715 409.5H1723"/><path d="M1715 459.5H1723"/><path d="M1715 508.5H1723"/><path d="M1715 616.5H1723"/><path d="M1715 687.5H1723"/>
<path d="M99.5 727V735"/><path d="M221.5 727V735"/><path d="M436.5 727V735"/><path d="M559.5 727V735"/><path d="M697.5 727V735"/><path d="M819.5 727V735"/><path d="M1003.5 727V735"/><path d="M1126.5 727V735"/><path d="M1325.5 727V735"/><path d="M1447.5 727V735"/><path d="M1662.5 727V735"/>
</g>
</svg>
<div class="lb" style="left:18px;top:61px;width:778px;height:36px"></div>
<div class="lb" style="left:18px;top:97px;width:260px;height:36px"></div>
<div class="lb" style="left:18px;top:133px;width:481px;height:36px"></div>
<svg width="1785" height="760" viewBox="0 0 1785 760">
<path d="M1715 165H1781.5a2.5 2.5 0 0 1 2.5 2.5V189.5a2.5 2.5 0 0 1 -2.5 2.5H1715z" fill="#eb4d5c"/>
<path d="M1715 178.5H1723" stroke="#f7c3c8" stroke-width="1" shape-rendering="crispEdges"/>
<circle cx="84" cy="78.3" r="1.3" fill="#b2b5be"/><circle cx="132.3" cy="78.3" r="1.3" fill="#b2b5be"/>
<g fill="none" stroke="#131722" stroke-width="1.45" stroke-linecap="round" stroke-linejoin="round">
<rect x="239.6" y="15.6" width="5.8" height="18.6"/><path d="M242.5 10.5V15.6M242.5 34.2V39.2"/>
<rect x="252.3" y="19.6" width="5.6" height="10.6"/><path d="M255.1 15V19.6M255.1 30.2V35"/>
<circle cx="306" cy="25.5" r="13.3"/><path d="M299.5 25.5H312.5M306 19V32"/>
<path d="M458.8 14.6C458 12.6 456.6 12 455.4 12.2C453.4 12.5 452.6 14.2 452.4 16.5L451 31C450.6 34.6 448.6 36.4 446 36C444.8 35.8 444 35.2 443.5 34.4M445.3 21.5H458.8M454.6 30.4L461.6 36.2M461.6 30.4L454.6 36.2"/>
<path d="M625.4 16.9L618.9 23.5L625.4 30.1M619.2 23.5H629.5C634.5 23.5 637.3 27 637.3 32.8"/>
<path d="M1538.5 22.2L1544 27.5L1549.5 22.2"/>
<path d="M1599.59 22.39 L1602.77 23.11 L1602.77 26.89 L1599.59 27.61 L1598.25 30.85 L1599.99 33.61 L1597.31 36.29 L1594.55 34.55 L1591.31 35.89 L1590.59 39.07 L1586.81 39.07 L1586.09 35.89 L1582.85 34.55 L1580.09 36.29 L1577.41 33.61 L1579.15 30.85 L1577.81 27.61 L1574.63 26.89 L1574.63 23.11 L1577.81 22.39 L1579.15 19.15 L1577.41 16.39 L1580.09 13.71 L1582.85 15.45 L1586.09 14.11 L1586.81 10.93 L1590.59 10.93 L1591.31 14.11 L1594.55 15.45 L1597.31 13.71 L1599.99 16.39 L1598.25 19.15Z"/><circle cx="1588.7" cy="25" r="4.4"/>
<path d="M1643.4 14H1637V20.4M1637 14L1644.2 21.2M1652.8 14H1659.2V20.4M1659.2 14L1652 21.2M1643.4 36.3H1637V29.9M1637 36.3L1644.2 29.1M1652.8 36.3H1659.2V29.9M1659.2 36.3L1652 29.1"/>
<path d="M1694.2 17.6H1698.6L1700.2 14.2C1700.6 13.3 1701.2 12.9 1702.2 12.9H1708.4C1709.4 12.9 1710 13.3 1710.4 14.2L1712 17.6H1716.4C1718.6 17.6 1720 19 1720 21.2V32.6C1720 34.8 1718.6 36.2 1716.4 36.2H1694.2C1692 36.2 1690.6 34.8 1690.6 32.6V21.2C1690.6 19 1692 17.6 1694.2 17.6Z"/><circle cx="1705.3" cy="25.8" r="6"/>
</g>
<path d="M673 16.9L679.5 23.5L673 30.1M679.2 23.5H668.9C663.9 23.5 661.1 27 661.1 32.8" fill="none" stroke="#b2b5be" stroke-width="1.45" stroke-linecap="round" stroke-linejoin="round"/>
<path d="M1448.5 36.2H1470.5C1474.2 36.2 1476.6 33.8 1476.6 30.6C1476.6 27.6 1474.6 25.4 1472 25C1472 18.6 1467.2 13.8 1460.6 13.8C1455.4 13.8 1451.2 17 1449.8 21.6C1445 21.6 1441.4 24.8 1441.4 29C1441.4 33.2 1444.6 36.2 1448.5 36.2Z" fill="none" stroke="#131722" stroke-width="1.45" stroke-dasharray="4.2 3"/>
<path d="M1777.6 13.2L1766.4 31.8H1789L1777.6 13.2Z" fill="none" stroke="#d4b106" stroke-width="1.8" stroke-linejoin="round"/><path d="M1777.6 18.3V25" stroke="#d4b106" stroke-width="2.2"/><circle cx="1777.6" cy="28" r="1.3" fill="#d4b106"/>
<g fill="none" stroke="#eef0f5" stroke-width="1"><rect x="1641.5" y="64.5" width="28" height="30" rx="5"/><rect x="1677.5" y="64.5" width="29.5" height="30" rx="5"/></g>
<g fill="none" stroke="#bcbfc8" stroke-width="1.5" stroke-linecap="round" stroke-linejoin="round"><path d="M1656 72.7V86M1649.8 80L1656 86.2L1662.2 80"/><path d="M1684.4 77V75.4C1684.4 73 1685.8 71.6 1688.2 71.6H1696.4C1698.8 71.6 1700.2 73 1700.2 75.4V77M1684.4 81.6V83.2C1684.4 85.6 1685.8 87 1688.2 87H1696.4C1698.8 87 1700.2 85.6 1700.2 83.2V81.6"/></g>
<rect x="25.5" y="172.5" width="41" height="30" rx="4" fill="#fff" fill-opacity="0.85" stroke="#cfd3dd" stroke-width="1"/><path d="M40.8 189.9L46.3 185L51.8 189.9" fill="none" stroke="#131722" stroke-width="1.9" stroke-linecap="square"/>
<circle cx="46" cy="355.9" r="25.2" fill="#000" fill-opacity="0.05"/><circle cx="46" cy="355.5" r="24.2" fill="#fff" stroke="#dedede" stroke-width="1"/>
<path d="M35 363.8C32 363.8 30 361.3 30 358.3C30 354.3 32.8 351.3 36.3 350.9C37.3 347.3 40.2 344.9 43.7 344.9C47.3 344.9 50 347 51 350.2C52.2 349.7 53.5 349.5 54.8 349.6C59.3 349.9 62.9 353.6 62.9 357.6C62.9 361.2 60.3 363.8 57 363.8Z" fill="#3aa2ec"/>
<path d="M28.5 362L42.2 351.8L50.1 360L59.5 350" fill="none" stroke="#fff" stroke-width="2" stroke-linejoin="round"/><circle cx="42.2" cy="351.8" r="2.3" fill="#fff"/><circle cx="50.1" cy="360" r="2.3" fill="#fff"/>
<circle cx="324.2" cy="79" r="13.6" fill="#089981" fill-opacity="0.13"/><circle cx="324.2" cy="79" r="6.3" fill="#089981"/>
<circle cx="1767.1" cy="748.2" r="6.9" fill="none" stroke="#131722" stroke-width="1.5"/><path d="M1774.50 748.20L1778.10 748.20M1772.33 753.43L1774.88 755.98M1767.10 755.60L1767.10 759.20M1761.87 753.43L1759.32 755.98M1759.70 748.20L1756.10 748.20M1761.87 742.97L1759.32 740.42M1767.10 740.80L1767.10 737.20M1772.33 742.97L1774.88 740.42" stroke="#131722" stroke-width="1.5" fill="none"/>
<path d="M0 447.5H5" stroke="#e0e3eb" stroke-width="1"/>
<path d="M-1 700.5H4.5a3 3 0 0 1 3 3V735.8a3 3 0 0 1 -3 3H-1z" fill="#fff" stroke="#e8eaf0" stroke-width="1"/><path d="M4.2 715.5L0.8 721L4.2 726.5" fill="none" stroke="#7b93a0" stroke-width="1.2"/>
</svg>
<div class="t" style="left:23.93px;top:15.05px;font-size:20.5px;line-height:20.5px;color:#131722;font-weight:700;letter-spacing:0.850px;">MFS</div>
<div class="t" style="left:182.42px;top:15.05px;font-size:20.5px;line-height:20.5px;color:#131722;">D</div>
<div class="t" style="left:330.27px;top:15.05px;font-size:20.5px;line-height:20.5px;color:#131722;letter-spacing:0.440px;">So sánh</div>
<div class="t" style="left:476.46px;top:15.05px;font-size:20.5px;line-height:20.5px;color:#131722;letter-spacing:0.305px;">Các chỉ báo</div>
<div class="t" style="left:1482.12px;top:15.05px;font-size:20.5px;line-height:20.5px;color:#131722;letter-spacing:0.959px;">Lưu</div>
<div class="t" style="left:23.71px;top:68.43px;font-size:23px;line-height:23px;color:#131722;letter-spacing:1.297px;">MFS</div>
<div class="t" style="left:93.65px;top:68.43px;font-size:23px;line-height:23px;color:#131722;letter-spacing:0.251px;">1D</div>
<div class="t" style="left:141.11px;top:68.43px;font-size:23px;line-height:23px;color:#131722;letter-spacing:0.852px;">HNX.UPCOM</div>
<div class="t" style="left:361.15px;top:71.07px;font-size:20px;line-height:20px;letter-spacing:0.085px;color:#a31418"><span style="color:#5d606b">O</span>56.50</div>
<div class="t" style="left:435.36px;top:71.07px;font-size:20px;line-height:20px;letter-spacing:0.086px;color:#a31418"><span style="color:#5d606b">H</span>57.00</div>
<div class="t" style="left:509.16px;top:71.07px;font-size:20px;line-height:20px;letter-spacing:-0.050px;color:#a31418"><span style="color:#5d606b">L</span>56.00</div>
<div class="t" style="left:578.88px;top:71.07px;font-size:20px;line-height:20px;letter-spacing:0.121px;color:#a31418"><span style="color:#5d606b">C</span>56.40</div>
<div class="t" style="left:653.32px;top:71.07px;font-size:20px;line-height:20px;color:#a31418;letter-spacing:-0.562px;">+0.40</div>
<div class="t" style="left:707.26px;top:71.07px;font-size:20px;line-height:20px;color:#a31418;letter-spacing:-0.047px;">(+0.71%)</div>
<div class="t" style="left:23.16px;top:105.07px;font-size:20px;line-height:20px;color:#131722;letter-spacing:0.216px;">BB</div>
<div class="t" style="left:55.59px;top:105.07px;font-size:20px;line-height:20px;color:#5d606b;letter-spacing:-0.038px;">20 2</div>
<div class="t" style="left:105.70px;top:105.07px;font-size:20px;line-height:20px;color:#ff6d00;letter-spacing:-0.336px;">58.07</div>
<div class="t" style="left:163.38px;top:105.07px;font-size:20px;line-height:20px;color:#2196f3;letter-spacing:-0.263px;">62.70</div>
<div class="t" style="left:221.10px;top:105.07px;font-size:20px;line-height:20px;color:#2196f3;letter-spacing:-0.092px;">53.43</div>
<div class="t" style="left:23.55px;top:141.07px;font-size:20px;line-height:20px;color:#131722;letter-spacing:-0.194px;">Ichimoku</div>
<div class="t" style="left:107.96px;top:141.07px;font-size:20px;line-height:20px;color:#5d606b;letter-spacing:-0.235px;">9 26 52 26</div>
<div class="t" style="left:212.40px;top:141.07px;font-size:20px;line-height:20px;color:#2196f3;letter-spacing:-0.227px;">56.65</div>
<div class="t" style="left:270.30px;top:141.07px;font-size:20px;line-height:20px;color:#b22833;letter-spacing:-0.302px;">58.65</div>
<div class="t" style="left:327.90px;top:141.07px;font-size:20px;line-height:20px;color:#388e3c;letter-spacing:-0.292px;">56.40</div>
<div class="t" style="left:385.60px;top:141.07px;font-size:20px;line-height:20px;color:#a5d6a7;letter-spacing:-0.152px;">57.65</div>
<div class="t" style="left:443.80px;top:141.07px;font-size:20px;line-height:20px;color:#ef9a9a;letter-spacing:-0.317px;">53.90</div>
<div class="t" style="left:24.51px;top:406.07px;font-size:20px;line-height:20px;color:#131722;letter-spacing:-0.587px;">Volume</div>
<div class="t" style="left:100.84px;top:406.07px;font-size:20px;line-height:20px;color:#eb4d5c;letter-spacing:-0.121px;">44.3K</div>
<div class="t" style="left:22.96px;top:573.87px;font-size:20px;line-height:20px;color:#131722;letter-spacing:-0.230px;">MACD</div>
<div class="t" style="left:87.68px;top:573.87px;font-size:20px;line-height:20px;color:#5d606b;letter-spacing:-0.242px;">12 26 close 9</div>
<div class="t" style="left:215.21px;top:573.87px;font-size:20px;line-height:20px;color:#ffcdd2;letter-spacing:-0.118px;">−0.79</div>
<div class="t" style="left:273.72px;top:573.87px;font-size:20px;line-height:20px;color:#2196f3;letter-spacing:-0.102px;">0.75</div>
<div class="t" style="left:321.18px;top:573.87px;font-size:20px;line-height:20px;color:#ff6d00;letter-spacing:-0.705px;">1.54</div>
<div class="t" style="left:1729.59px;top:92.13px;font-size:17.8px;line-height:17.8px;color:#131722;letter-spacing:0.216px;-webkit-text-stroke:0.3px #131722;">70.00</div>
<div class="t" style="left:1729.60px;top:150.03px;font-size:17.8px;line-height:17.8px;color:#131722;letter-spacing:0.214px;-webkit-text-stroke:0.3px #131722;">60.00</div>
<div class="t" style="left:1729.79px;top:207.83px;font-size:17.8px;line-height:17.8px;color:#131722;letter-spacing:0.166px;-webkit-text-stroke:0.3px #131722;">50.00</div>
<div class="t" style="left:1730.09px;top:266.23px;font-size:17.8px;line-height:17.8px;color:#131722;letter-spacing:0.090px;-webkit-text-stroke:0.3px #131722;">40.00</div>
<div class="t" style="left:1729.82px;top:325.13px;font-size:17.8px;line-height:17.8px;color:#131722;letter-spacing:0.157px;-webkit-text-stroke:0.3px #131722;">30.00</div>
<div class="t" style="left:1731.25px;top:170.63px;font-size:17.8px;line-height:17.8px;color:#fff;font-weight:700;letter-spacing:0.009px;">56.40</div>
<div class="t" style="left:1729.79px;top:402.13px;font-size:17.8px;line-height:17.8px;color:#131722;letter-spacing:-0.919px;-webkit-text-stroke:0.3px #131722;">750K</div>
<div class="t" style="left:1729.99px;top:451.93px;font-size:17.8px;line-height:17.8px;color:#131722;letter-spacing:-0.986px;-webkit-text-stroke:0.3px #131722;">500K</div>
<div class="t" style="left:1729.80px;top:500.83px;font-size:17.8px;line-height:17.8px;color:#131722;letter-spacing:-0.925px;-webkit-text-stroke:0.3px #131722;">250K</div>
<div class="t" style="left:1730.09px;top:609.13px;font-size:17.8px;line-height:17.8px;color:#131722;letter-spacing:0.253px;-webkit-text-stroke:0.3px #131722;">4.00</div>
<div class="t" style="left:1729.80px;top:679.73px;font-size:17.8px;line-height:17.8px;color:#131722;letter-spacing:0.349px;-webkit-text-stroke:0.3px #131722;">0.00</div>
<div class="t" style="left:36.00px;top:740.43px;font-size:17.8px;line-height:17.8px;color:#131722;letter-spacing:-0.022px;-webkit-text-stroke:0.3px #131722;">Tháng Mười hai</div>
<div class="t" style="left:211.64px;top:740.43px;font-size:17.8px;line-height:17.8px;color:#131722;letter-spacing:-0.548px;-webkit-text-stroke:0.3px #131722;">12</div>
<div class="t" style="left:415.88px;top:740.43px;font-size:17.8px;line-height:17.8px;color:#131722;font-weight:700;letter-spacing:0.338px;-webkit-text-stroke:0.3px #131722;">2025</div>
<div class="t" style="left:548.54px;top:740.43px;font-size:17.8px;line-height:17.8px;color:#131722;letter-spacing:0.278px;-webkit-text-stroke:0.3px #131722;">14</div>
<div class="t" style="left:656.90px;top:740.43px;font-size:17.8px;line-height:17.8px;color:#131722;letter-spacing:-0.228px;-webkit-text-stroke:0.3px #131722;">Tháng Hai</div>
<div class="t" style="left:809.24px;top:740.43px;font-size:17.8px;line-height:17.8px;color:#131722;letter-spacing:-0.561px;-webkit-text-stroke:0.3px #131722;">13</div>
<div class="t" style="left:971.90px;top:740.43px;font-size:17.8px;line-height:17.8px;color:#131722;letter-spacing:-0.489px;-webkit-text-stroke:0.3px #131722;">Tháng 3</div>
<div class="t" style="left:1114.84px;top:740.43px;font-size:17.8px;line-height:17.8px;color:#131722;letter-spacing:-0.161px;-webkit-text-stroke:0.3px #131722;">13</div>
<div class="t" style="left:1293.00px;top:740.43px;font-size:17.8px;line-height:17.8px;color:#131722;letter-spacing:-0.249px;-webkit-text-stroke:0.3px #131722;">Tháng 4</div>
<div class="t" style="left:1437.54px;top:740.43px;font-size:17.8px;line-height:17.8px;color:#131722;letter-spacing:-1.574px;-webkit-text-stroke:0.3px #131722;">11</div>
<div class="t" style="left:1617.40px;top:740.43px;font-size:17.8px;line-height:17.8px;color:#131722;letter-spacing:-0.403px;-webkit-text-stroke:0.3px #131722;">Tháng Năm</div>
<!--MORETIME-->
</div></body></html>
